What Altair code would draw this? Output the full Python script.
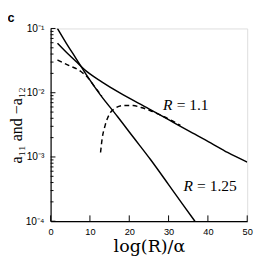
import altair as alt
import pandas as pd

# ---- data ----
steep_x = [1.75, 4, 6.4, 9.4, 12.6, 17, 21, 25.4, 30, 33.5, 36.7]
steep_log = [-1.00, -1.23, -1.46, -1.75, -2.03, -2.37, -2.69, -3.04, -3.43, -3.73, -4.00]

r11_x = [1.75, 4, 6.4, 9.4, 13, 17.5, 25, 30, 35, 40.7, 45, 50]
r11_log = [-1.23, -1.37, -1.51, -1.68, -1.83, -2.00, -2.25, -2.42, -2.59, -2.78, -2.93, -3.08]

dash_a_x = [1.75, 4.45, 7.7, 9.4, 11, 13]
dash_a_log = [-1.49, -1.57, -1.67, -1.76, -1.89, -2.05]

dash_b_x = [12.7, 13.1, 13.9, 15.0, 16.5, 18.4, 21, 23, 25.4, 28, 31, 33]
dash_b_log = [-2.93, -2.72, -2.50, -2.33, -2.24, -2.20, -2.20, -2.23, -2.28, -2.35, -2.44, -2.51]

x_ticks = [0, 10, 20, 30, 40, 50]
y_major = [1e-4, 1e-3, 1e-2, 1e-1]
y_minor = [k * 10.0 ** n for n in (-4, -3, -2) for k in range(2, 10)]

labels_r = ["R", "R"]
labels_rest = ["= 1.1", "= 1.25"]
labels_x = [28.6, 33.8]
labels_log = [-2.19, -3.45]

W, H = 203, 199


def frame(xs, logs, name):
    return pd.DataFrame({"x": xs, "y": [10.0 ** v for v in logs], "s": name})


xscale = alt.Scale(domain=[0, 50], nice=False, zero=False)
yscale = alt.Scale(type="log", domain=[1e-4, 1e-1], nice=False)

xaxis = alt.Axis(values=x_ticks, ticks=False, grid=False, domainColor="black",
                 domainWidth=1.2, labelFont="Liberation Sans", labelFontSize=9.5,
                 labelColor="black", labelPadding=6, labelFlush=False,
                 title="log(R)/α", titleFont="DejaVu Serif", titleFontSize=18,
                 titleFontWeight="normal", titleColor="black", titlePadding=2)
yaxis = alt.Axis(values=y_major, ticks=False, grid=False, domainColor="black",
                 domainWidth=1.2, labelFont="Liberation Sans", labelFontSize=10.5,
                 labelColor="black", labelPadding=7, labelFlush=False,
                 labelExpr="{'0.0001':'10⁻⁴','0.001':'10⁻³','0.01':'10⁻²','0.1':'10⁻¹'}[datum.value+'']",
                 title="a₁₁ and −a₁₂", titleFont="Liberation Serif", titleFontSize=16.5,
                 titleFontWeight="normal", titleColor="black", titlePadding=0)


def solid(df):
    return alt.Chart(df).mark_line(color="black", strokeWidth=1.5, interpolate="monotone", clip=True).encode(
        x=alt.X("x:Q", scale=xscale, axis=xaxis),
        y=alt.Y("y:Q", scale=yscale, axis=yaxis),
    )


def dashed(df):
    return alt.Chart(df).mark_line(color="black", strokeWidth=1.5, strokeDash=[5, 3.5],
                                   interpolate="monotone", clip=True).encode(
        x=alt.X("x:Q", scale=xscale),
        y=alt.Y("y:Q", scale=yscale),
    )


l1 = solid(frame(steep_x, steep_log, "R=1.25"))
l2 = solid(frame(r11_x, r11_log, "R=1.1"))
l3 = dashed(frame(dash_a_x, dash_a_log, "a"))
l4 = dashed(frame(dash_b_x, dash_b_log, "b"))

ymaj = alt.Chart(pd.DataFrame({"y": y_major})).mark_rule(color="black", strokeWidth=1).encode(
    y=alt.Y("y:Q", scale=yscale), x=alt.value(0), x2=alt.value(5))
ymin = alt.Chart(pd.DataFrame({"y": y_minor})).mark_rule(color="black", strokeWidth=1).encode(
    y=alt.Y("y:Q", scale=yscale), x=alt.value(0), x2=alt.value(3))
xt = alt.Chart(pd.DataFrame({"x": x_ticks})).mark_rule(color="black", strokeWidth=1).encode(
    x=alt.X("x:Q", scale=xscale), y=alt.value(H), y2=alt.value(H - 6))

lab_df = pd.DataFrame({"r": labels_r, "t": labels_rest, "x": labels_x,
                       "y": [10.0 ** v for v in labels_log]})
lab_r = alt.Chart(lab_df).mark_text(
    font="Liberation Serif", fontSize=16, fontStyle="italic", color="black",
    align="left", baseline="middle").encode(
    x=alt.X("x:Q", scale=xscale), y=alt.Y("y:Q", scale=yscale), text="r:N")
lab_t = alt.Chart(lab_df).mark_text(
    font="Liberation Serif", fontSize=16, color="black", dx=14,
    align="left", baseline="middle").encode(
    x=alt.X("x:Q", scale=xscale), y=alt.Y("y:Q", scale=yscale), text="t:N")

panel = alt.Chart(pd.DataFrame({"t": ["c"]})).mark_text(
    font="Liberation Sans", fontSize=13, fontWeight="bold", color="black",
    align="center", baseline="top").encode(
    x=alt.value(-41), y=alt.value(-17), text="t:N")

chart = alt.layer(l1, l2, l3, l4, ymaj, ymin, xt, lab_r, lab_t, panel).properties(
    width=W, height=H,
    autosize=alt.AutoSizeParams(type="none"),
    padding={"left": 44, "top": 17, "right": 7, "bottom": 39},
).configure_view(stroke=None).configure(background="white")

chart.save("out.html", embed_options={"renderer": "svg", "actions": False})
